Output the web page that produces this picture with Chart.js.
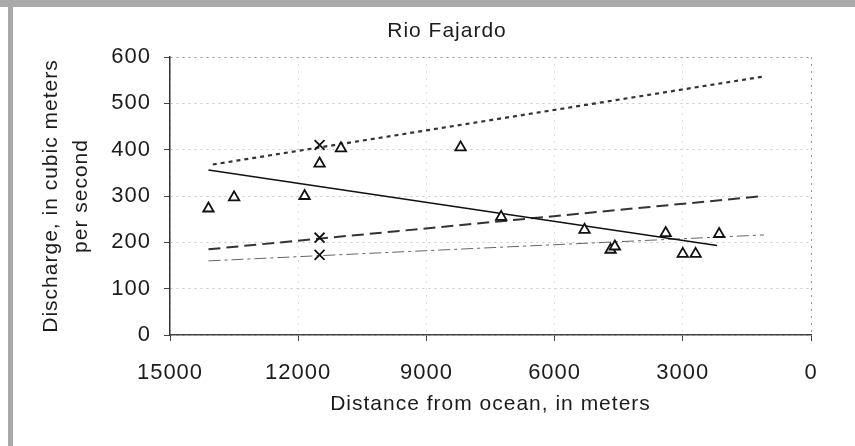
<!DOCTYPE html>
<html>
<head>
<meta charset="utf-8">
<title>Rio Fajardo</title>
<script src="https://cdn.jsdelivr.net/npm/chart.js@4.4.0/dist/chart.umd.min.js"></script>
<style>
    html, body { margin: 0; padding: 0; background: #fff; }
    #wrap { width: 855px; height: 446px; }
</style>
</head>
<body>
<div id="wrap"><canvas id="chart" width="855" height="446"></canvas></div>
<script>
// measured discharges (triangles) and the three cross marks at one site
const triDistance = [14100, 13500, 11850, 11500, 11000, 8200, 7250, 5300, 4690, 4590, 3400, 3000, 2700, 2150];
const triDischarge = [273, 297, 300, 370, 403, 405, 255, 227, 184, 191, 220, 175, 175, 218];
const crossDistance = [11500, 11500, 11500];
const crossDischarge = [410, 210, 173];

// fitted trend lines: start / end
const upperLineX = [14000, 1100];
const upperLineY = [368, 558];
const solidLineX = [14100, 2200];
const solidLineY = [356, 193];
const dashedLineX = [14100, 1100];
const dashedLineY = [185, 300];
const thinLineX = [14100, 1100];
const thinLineY = [160, 216];

const xTicks = [15000, 12000, 9000, 6000, 3000, 0];
const yTicks = [0, 100, 200, 300, 400, 500, 600];

const toPoints = (xs, ys) => xs.map((x, i) => ({ x, y: ys[i] }));

const FONT = "'Liberation Sans', Arial, Helvetica, sans-serif";
const INK = '#1c1c1c';
const SPACING = '1px';

const lineSet = (xs, ys, width, dash, color) => ({
    data: toPoints(xs, ys),
    showLine: true,
    pointRadius: 0,
    borderColor: color,
    borderWidth: width,
    borderDash: dash,
    fill: false
});

// page frame, background and the heading
const frame = {
    id: 'frame',
    beforeLayout(chart) {
        chart.ctx.letterSpacing = SPACING;
    },
    beforeDraw(chart) {
        const ctx = chart.ctx;
        ctx.save();
        ctx.fillStyle = '#fff';
        ctx.fillRect(0, 0, chart.width, chart.height);
        ctx.fillStyle = '#a9a9a9';
        ctx.fillRect(0, 0, chart.width, 7);
        ctx.fillRect(8, 7, 5, chart.height - 7);
        ctx.fillStyle = INK;
        ctx.font = '21px ' + FONT;
        ctx.textAlign = 'center';
        ctx.textBaseline = 'middle';
        ctx.fillText('Rio Fajardo', 447, 31);
        ctx.restore();
        ctx.letterSpacing = SPACING;
    }
};

new Chart(document.getElementById('chart'), {
    type: 'scatter',
    data: {
        datasets: [
            {
                data: toPoints(triDistance, triDischarge),
                pointStyle: 'triangle',
                pointRadius: 6,
                borderColor: '#111',
                backgroundColor: '#fff',
                borderWidth: 1.8
            },
            {
                data: toPoints(crossDistance, crossDischarge),
                pointStyle: 'crossRot',
                pointRadius: 7,
                borderColor: '#111',
                borderWidth: 1.8
            },
            lineSet(upperLineX, upperLineY, 2.2, [4, 4], '#333'),
            lineSet(solidLineX, solidLineY, 1.6, [], '#111'),
            lineSet(dashedLineX, dashedLineY, 2, [12, 6], '#333'),
            lineSet(thinLineX, thinLineY, 1, [12, 4, 3, 4], '#666')
        ]
    },
    options: {
        responsive: false,
        animation: false,
        layout: { padding: { top: 57, right: 44, left: 0, bottom: 0 } },
        plugins: {
            legend: { display: false },
            tooltip: { enabled: false },
            title: { display: false }
        },
        scales: {
            x: {
                type: 'linear',
                reverse: true,
                min: 0,
                max: 15000,
                afterFit: scale => { scale.height = 111; },
                afterBuildTicks: scale => { scale.ticks = xTicks.map(v => ({ value: v })); },
                ticks: {
                    color: INK,
                    font: { family: FONT, size: 22 },
                    padding: 19,
                    maxRotation: 0,
                    callback: v => String(v)
                },
                grid: {
                    color: ctx => ctx.tick && ctx.tick.value === 0 ? '#999' : '#e0e0e0',
                    tickColor: '#444',
                    tickLength: 6
                },
                border: { display: true, color: '#444', width: 1.5, dash: [2, 5] },
                title: {
                    display: true,
                    text: 'Distance from ocean, in meters',
                    color: INK,
                    font: { family: FONT, size: 21 },
                    padding: { top: 0, bottom: 29 }
                }
            },
            y: {
                type: 'linear',
                min: 0,
                max: 600,
                afterFit: scale => { scale.width = 170; },
                afterBuildTicks: scale => { scale.ticks = yTicks.map(v => ({ value: v })); },
                ticks: {
                    color: INK,
                    font: { family: FONT, size: 22 },
                    padding: 13,
                    callback: v => String(v)
                },
                grid: {
                    color: ctx => ctx.tick && ctx.tick.value === 600 ? '#999' : '#c8c8c8',
                    tickColor: '#444',
                    tickLength: 6
                },
                border: { display: true, color: '#333', width: 1.5, dash: [2, 4] },
                title: {
                    display: true,
                    text: ['Discharge, in cubic meters', 'per second'],
                    color: INK,
                    font: { family: FONT, size: 21, lineHeight: 1.4 },
                    padding: { top: 37, bottom: 0 }
                }
            }
        }
    },
    plugins: [frame]
});
</script>
</body>
</html>
